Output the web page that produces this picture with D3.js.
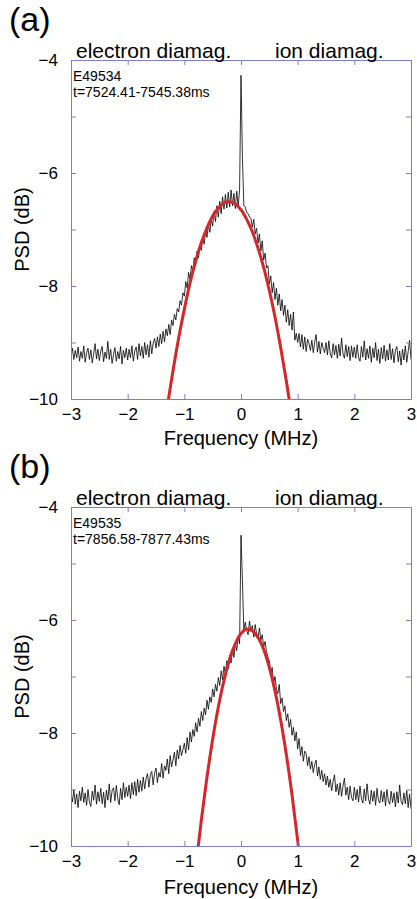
<!DOCTYPE html>
<html>
<head>
<meta charset="utf-8">
<script src="https://cdn.jsdelivr.net/npm/d3@7"></script>
<style>
  body { margin: 0; background: #fff; }
  svg text { font-family: "Liberation Sans", Arial, sans-serif; fill: #000; }
</style>
</head>
<body>
<script>
// frequency grid of the measured spectra (MHz)
const freqStart = -3;
const freqStep = 0.025;

// panel (a) measured PSD (dB), one value per grid step
const psdA = [
  -9.24,-9.1,-9.3,-9.14,-9.27,-9.08,-9.33,-9.16,-9.28,-9.06,
  -9.35,-9.18,-9.1,-9.3,-9.13,-9.36,-9.2,-9.02,-9.29,-9.12,
  -9.32,-9.15,-9.07,-9.34,-9.17,-9.28,-8.98,-9.3,-9.12,-9.37,
  -9.22,-9.09,-9.33,-9.16,-9.29,-9.07,-9.38,-9.14,-9.27,-9.1,
  -9.31,-9.12,-9.27,-9.06,-9.33,-9.15,-9.08,-9.3,-9.02,-9.24,
  -9.07,-9.28,-9.0,-9.22,-9.04,-9.26,-8.97,-9.2,-9.01,-8.93,
  -9.1,-8.9,-9.07,-8.85,-9.02,-8.8,-8.99,-8.76,-8.88,-8.68,
  -8.86,-8.6,-8.7,-8.5,-8.6,-8.4,-8.46,-8.26,-8.34,-8.12,
  -8.18,-7.92,-8.04,-7.76,-7.88,-7.64,-7.74,-7.5,-7.62,-7.38,
  -7.5,-7.27,-7.37,-7.13,-7.26,-7.02,-7.14,-6.9,-7.05,-6.82,
  -6.94,-6.68,-6.86,-6.58,-6.78,-6.5,-6.72,-6.42,-6.64,-6.38,
  -6.62,-6.34,-6.6,-6.3,-6.58,-6.36,-6.63,-6.32,-6.6,-6.3,
  -4.27,-5.72,-6.58,-6.6,-6.7,-6.72,-6.78,-6.8,-6.96,-6.82,
  -7.08,-6.98,-7.24,-7.08,-7.38,-7.2,-7.54,-7.42,-7.68,-7.64,
  -7.96,-7.82,-8.12,-7.94,-8.24,-8.04,-8.34,-8.14,-8.44,-8.24,
  -8.52,-8.34,-8.64,-8.42,-8.7,-8.5,-8.78,-8.46,-8.96,-8.84,
  -9.0,-8.84,-9.08,-8.86,-9.12,-8.9,-9.16,-8.94,-9.02,-9.14,
  -8.96,-9.18,-9.0,-8.86,-9.17,-8.98,-9.2,-9.0,-9.1,-9.18,
  -9.0,-9.22,-8.97,-9.2,-9.27,-9.02,-9.22,-9.05,-9.28,-9.03,
  -9.24,-8.92,-9.2,-9.28,-9.04,-9.25,-9.07,-9.32,-9.06,-9.26,
  -9.08,-9.28,-9.04,-9.27,-9.33,-9.07,-9.26,-8.97,-9.31,-9.11,
  -9.28,-9.06,-9.35,-9.1,-9.27,-9.0,-9.32,-9.12,-9.37,-9.09,
  -9.29,-9.05,-9.33,-9.13,-9.31,-9.02,-9.3,-9.11,-9.36,-9.14,
  -9.07,-9.34,-9.15,-9.4,-9.12,-9.31,-9.06,-9.35,-9.16,-8.96,
  -9.3
];

// panel (b) measured PSD (dB)
const psdB = [
  -9.06,-9.22,-9.0,-9.26,-9.08,-9.32,-9.03,-9.2,-8.96,-9.23,
  -9.06,-9.28,-9.0,-9.22,-9.3,-9.03,-9.19,-8.92,-9.26,-9.04,
  -9.21,-8.98,-9.25,-9.05,-9.32,-9.01,-9.19,-8.9,-9.23,-9.02,
  -8.97,-9.2,-8.93,-9.16,-9.27,-8.98,-9.18,-8.88,-9.14,-8.96,
  -9.12,-8.92,-9.16,-8.88,-9.09,-8.86,-9.11,-8.82,-9.05,-8.84,
  -9.03,-8.78,-8.99,-8.8,-8.72,-8.96,-8.74,-8.68,-8.92,-8.71,
  -8.62,-8.88,-8.7,-8.78,-8.54,-8.8,-8.58,-8.66,-8.46,-8.72,
  -8.4,-8.6,-8.48,-8.34,-8.58,-8.3,-8.46,-8.22,-8.4,-8.3,
  -8.18,-8.36,-8.08,-8.3,-7.98,-8.16,-7.94,-8.06,-7.82,-7.98,
  -7.74,-7.88,-7.62,-7.78,-7.56,-7.68,-7.42,-7.58,-7.36,-7.46,
  -7.22,-7.36,-7.14,-7.26,-7.02,-7.16,-6.9,-7.06,-6.82,-6.96,
  -6.72,-6.86,-6.62,-6.76,-6.5,-6.66,-6.4,-6.54,-6.28,-6.42,
  -4.5,-5.3,-6.2,-6.04,-6.18,-6.26,-6.02,-6.2,-6.1,-6.3,
  -6.08,-6.24,-6.32,-6.14,-6.36,-6.26,-6.48,-6.38,-6.56,-6.66,
  -6.72,-6.96,-6.84,-7.12,-7.0,-7.22,-7.3,-7.14,-7.48,-7.38,
  -7.62,-7.52,-7.78,-7.66,-7.9,-7.76,-8.04,-7.9,-8.14,-7.98,
  -8.28,-8.1,-8.4,-8.24,-8.5,-8.32,-8.36,-8.58,-8.42,-8.64,
  -8.5,-8.7,-8.56,-8.48,-8.76,-8.6,-8.82,-8.66,-8.86,-8.72,
  -8.92,-8.76,-8.96,-8.82,-9.02,-8.86,-8.74,-9.04,-8.9,-9.1,
  -8.88,-9.12,-8.94,-8.8,-9.1,-8.96,-9.18,-8.94,-9.14,-9.2,
  -8.96,-9.18,-9.0,-9.22,-8.94,-9.16,-9.24,-8.99,-9.2,-8.9,
  -9.17,-9.26,-9.01,-9.21,-9.03,-9.28,-8.98,-9.19,-9.24,-9.02,
  -9.22,-9.04,-9.29,-9.0,-9.2,-9.26,-9.03,-9.23,-9.06,-9.31,
  -9.04,-9.24,-8.92,-9.21,-9.27,-9.06,-9.25,-9.02,-9.32,-9.08,
  -9.34
];

// Gaussian fits (red)
const fitFreqA = [-1.3,-1.2,-1.1,-1.0,-0.9,-0.8,-0.7,-0.6,-0.5,-0.4,-0.3,-0.2,-0.1,0.0,0.1,0.2,0.3,0.4,0.5,0.6,0.7,0.8,0.9];
const fitPsdA = [-10.13,-9.50,-8.92,-8.41,-7.95,-7.56,-7.23,-6.97,-6.76,-6.62,-6.53,-6.51,-6.55,-6.65,-6.82,-7.04,-7.33,-7.67,-8.08,-8.55,-9.09,-9.68,-10.34];
const fitFreqB = [-0.8,-0.7,-0.6,-0.5,-0.4,-0.3,-0.2,-0.1,0.0,0.1,0.2,0.3,0.4,0.5,0.6,0.7,0.8,0.9,1.0,1.1];
const fitPsdB = [-10.41,-9.54,-8.78,-8.11,-7.54,-7.07,-6.69,-6.42,-6.24,-6.16,-6.19,-6.31,-6.52,-6.84,-7.26,-7.77,-8.38,-9.09,-9.90,-10.81];

// axis ticks
const freqTicks = [-3, -2, -1, 0, 1, 2, 3];
const psdTicks = [-4, -5, -6, -7, -8, -9, -10];
const psdLabels = [-4, -6, -8, -10];

const axisColor = '#7c7cd2';

let svg = d3.select('body')
  .append('svg')
  .attr('width', 417)
  .attr('height', 899);

function panel(opts) {
  let left = 71, right = 411;
  let top = opts.top, bottom = opts.bottom;

  let x = d3.scaleLinear().domain([-3, 3]).range([left, right]);
  let y = d3.scaleLinear().domain([-10, -4]).range([bottom, top]);

  let clipId = 'clip' + opts.tag;
  svg.append('clipPath').attr('id', clipId)
    .append('rect')
    .attr('x', left).attr('y', top)
    .attr('width', right - left).attr('height', bottom - top);

  let spectrum = opts.psd.map((v, i) => ({ f: freqStart + i * freqStep, v: v }));
  let fit = opts.fitFreq.map((f, i) => ({ f: f, v: opts.fitPsd[i] }));

  let g = svg.append('g').attr('clip-path', `url(#${clipId})`);

  g.append('path')
    .datum(spectrum)
    .attr('fill', 'none')
    .attr('stroke', '#000')
    .attr('stroke-width', 0.8)
    .attr('d', d3.line().x(d => x(d.f)).y(d => y(d.v)));

  g.append('path')
    .datum(fit)
    .attr('fill', 'none')
    .attr('stroke', '#d7262b')
    .attr('stroke-width', 3)
    .attr('d', d3.line().curve(d3.curveCatmullRom).x(d => x(d.f)).y(d => y(d.v)));

  //bottom axis with labels, ticks pointing in
  let xb = svg.append('g')
    .attr('transform', `translate(0,${bottom})`)
    .call(d3.axisBottom(x).tickValues(freqTicks).tickSizeInner(-5).tickSizeOuter(0).tickPadding(9).tickFormat(d3.format('d')));
  //top axis, no labels
  let xt = svg.append('g')
    .attr('transform', `translate(0,${top})`)
    .call(d3.axisTop(x).tickValues(freqTicks).tickSizeInner(-5).tickSizeOuter(0).tickFormat(''));
  //left axis
  let yl = svg.append('g')
    .attr('transform', `translate(${left},0)`)
    .call(d3.axisLeft(y).tickValues(psdTicks).tickSizeInner(-5).tickSizeOuter(0).tickPadding(13)
      .tickFormat(d => psdLabels.includes(d) ? d3.format('d')(d) : ''));
  //right axis
  let yr = svg.append('g')
    .attr('transform', `translate(${right},0)`)
    .call(d3.axisRight(y).tickValues(psdTicks).tickSizeInner(-5).tickSizeOuter(0).tickFormat(''));

  [xb, xt, yl, yr].forEach(a => {
    a.selectAll('path, line').attr('stroke', axisColor).attr('stroke-width', 1);
    a.selectAll('text')
      .attr('fill', '#000')
      .style('font-size', '17px')
      .style('font-family', '"Liberation Sans", Arial, sans-serif');
  });

  // panel letter
  svg.append('text')
    .attr('x', 9).attr('y', top - 29)
    .style('font-size', '34px')
    .text(opts.letter);

  svg.append('text')
    .attr('x', 76).attr('y', top - 2)
    .style('font-size', '21px')
    .text('electron diamag.');
  svg.append('text')
    .attr('x', 275).attr('y', top - 2)
    .style('font-size', '21px')
    .text('ion diamag.');

  svg.append('text')
    .attr('x', 73).attr('y', top + 21)
    .style('font-size', '14px')
    .text(opts.shot);
  svg.append('text')
    .attr('x', 73).attr('y', top + 37)
    .style('font-size', '14px')
    .text(opts.time);

  //x axis title
  svg.append('text')
    .attr('text-anchor', 'middle')
    .attr('x', (left + right) / 2).attr('y', bottom + opts.titleGap)
    .style('font-size', '20px')
    .text('Frequency (MHz)');

  //y axis title
  svg.append('text')
    .attr('text-anchor', 'middle')
    .attr('transform', `translate(29,${(top + bottom) / 2}) rotate(-90)`)
    .style('font-size', '20px')
    .text('PSD (dB)');
}

panel({ tag: 'a', letter: '(a)', top: 60, bottom: 399, titleGap: 46,
  psd: psdA, fitFreq: fitFreqA, fitPsd: fitPsdA,
  shot: 'E49534', time: 't=7524.41-7545.38ms' });

panel({ tag: 'b', letter: '(b)', top: 507, bottom: 846, titleGap: 48,
  psd: psdB, fitFreq: fitFreqB, fitPsd: fitPsdB,
  shot: 'E49535', time: 't=7856.58-7877.43ms' });
</script>
</body>
</html>
